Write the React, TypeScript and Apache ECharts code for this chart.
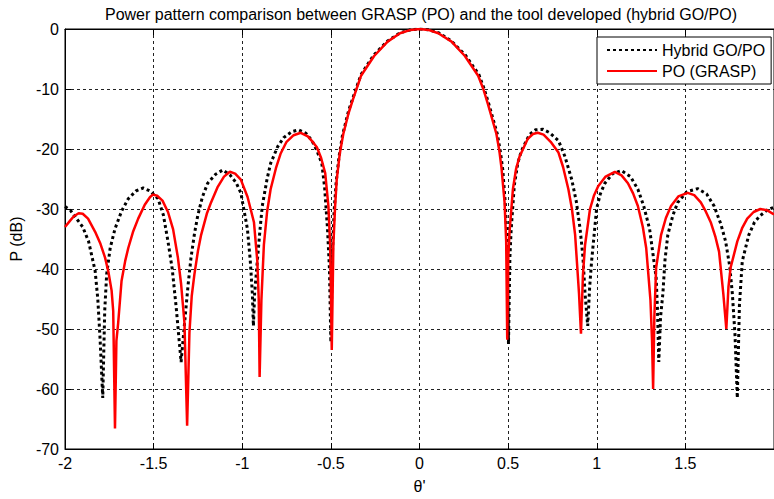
import React, { useEffect, useRef } from "react";
import * as echarts from "echarts";

const titleText = "Power pattern comparison between GRASP (PO) and the tool developed (hybrid GO/PO)";
const seriesNames = ["Hybrid GO/PO", "PO (GRASP)"];

// Hybrid GO/PO (black dotted)
const thetaHybrid = [
  -2.0, -1.97, -1.94, -1.9, -1.867, -1.83, -1.815, -1.802, -1.787, -1.776, -1.765, -1.745, -1.718, -1.68, -1.643,
  -1.6, -1.559, -1.52, -1.475, -1.445, -1.419, -1.395, -1.373, -1.345, -1.322, -1.305, -1.289, -1.27, -1.251, -1.225,
  -1.195, -1.15, -1.11, -1.07, -1.035, -1.008, -0.971, -0.955, -0.943, -0.937, -0.93, -0.915, -0.9, -0.887, -0.86,
  -0.84, -0.8, -0.766, -0.72, -0.682, -0.64, -0.607, -0.58, -0.551, -0.535, -0.519, -0.508, -0.5, -0.492, -0.482,
  -0.47, -0.455, -0.435, -0.4, -0.37, -0.33, -0.26, -0.18, -0.11, -0.05, 0, 0.05, 0.11, 0.18, 0.26,
  0.335, 0.365, 0.39, 0.415, 0.44, 0.457, 0.47, 0.485, 0.495, 0.502, 0.51, 0.517, 0.535, 0.555, 0.575,
  0.62, 0.655, 0.695, 0.735, 0.784, 0.82, 0.859, 0.885, 0.906, 0.922, 0.934, 0.949, 0.96, 0.971, 0.999,
  1.02, 1.046, 1.09, 1.139, 1.19, 1.232, 1.265, 1.298, 1.335, 1.343, 1.35, 1.36, 1.373, 1.385, 1.401,
  1.43, 1.457, 1.51, 1.569, 1.62, 1.662, 1.7, 1.727, 1.75, 1.765, 1.78, 1.793, 1.805, 1.821, 1.858,
  1.89, 1.923, 1.96, 2.0,
];
const powerHybrid = [
  -29.6, -30.2, -31.4, -33.0, -35.4, -40.3, -45.0, -51.7, -61.5, -47.0, -40.9, -36.5, -33.3, -30.3, -28.3,
  -27.0, -26.5, -27.0, -28.3, -31.0, -35.4, -40.0, -46.3, -55.5, -47.9, -42.5, -38.1, -34.2, -31.1, -28.0,
  -25.7, -24.2, -23.5, -24.3, -25.6, -27.3, -33.3, -38.5, -44.1, -49.5, -44.0, -38.7, -33.5, -29.5, -25.0,
  -22.4, -19.6, -18.1, -17.1, -16.8, -17.4, -18.6, -20.2, -22.4, -26.5, -33.3, -40.0, -52.2, -38.0, -30.5,
  -25.5, -21.5, -17.8, -13.6, -11.0, -7.6, -4.4, -2.0, -0.65, -0.12, 0, -0.12, -0.65, -2.0, -4.4,
  -7.6, -10.0, -12.4, -15.0, -17.6, -20.6, -23.5, -29.5, -36.0, -52.5, -38.0, -33.5, -26.0, -22.3, -20.3,
  -17.6, -16.8, -16.7, -17.3, -18.6, -21.2, -25.1, -28.8, -33.3, -38.0, -44.1, -49.5, -43.0, -38.7, -30.0,
  -27.5, -25.7, -24.1, -23.6, -24.6, -26.7, -29.5, -33.3, -41.4, -47.0, -55.5, -48.0, -44.1, -38.5, -34.3,
  -31.0, -28.9, -27.1, -26.6, -27.5, -29.5, -32.5, -35.4, -39.5, -44.1, -51.0, -61.5, -46.0, -38.7, -34.3,
  -32.2, -31.1, -30.2, -29.7,
];

// PO (GRASP) (red solid)
const thetaPO = [
  -2.0, -1.97, -1.95, -1.923, -1.9, -1.87, -1.83, -1.8, -1.774, -1.755, -1.737, -1.728, -1.718, -1.71, -1.7,
  -1.681, -1.66, -1.643, -1.615, -1.587, -1.55, -1.52, -1.503, -1.48, -1.45, -1.419, -1.39, -1.363, -1.345, -1.326,
  -1.311, -1.298, -1.285, -1.27, -1.25, -1.232, -1.2, -1.176, -1.14, -1.103, -1.07, -1.04, -1.008, -0.97, -0.934,
  -0.915, -0.907, -0.902, -0.892, -0.878, -0.86, -0.84, -0.81, -0.784, -0.75, -0.71, -0.67, -0.63, -0.6, -0.579,
  -0.555, -0.532, -0.514, -0.504, -0.495, -0.486, -0.476, -0.467, -0.45, -0.43, -0.4, -0.374, -0.33, -0.256, -0.18,
  -0.11, -0.05, 0, 0.05, 0.106, 0.181, 0.256, 0.331, 0.36, 0.387, 0.41, 0.434, 0.45, 0.462, 0.48,
  0.489, 0.495, 0.501, 0.508, 0.527, 0.545, 0.564, 0.611, 0.64, 0.667, 0.7, 0.74, 0.784, 0.81, 0.84,
  0.86, 0.878, 0.9, 0.911, 0.922, 0.934, 0.962, 0.985, 1.008, 1.05, 1.102, 1.14, 1.176, 1.205, 1.232,
  1.26, 1.279, 1.303, 1.312, 1.318, 1.325, 1.335, 1.363, 1.39, 1.419, 1.46, 1.513, 1.55, 1.587, 1.615,
  1.643, 1.67, 1.69, 1.714, 1.731, 1.743, 1.755, 1.793, 1.82, 1.849, 1.885, 1.923, 1.96, 2.0,
];
const powerPO = [
  -33.0, -31.9, -31.2, -30.7, -30.8, -31.6, -33.8, -35.8, -38.1, -40.5, -43.6, -47.0, -66.6, -52.0, -49.0,
  -42.0, -38.6, -36.5, -33.7, -31.6, -29.3, -28.0, -27.6, -27.8, -28.6, -30.5, -33.4, -38.1, -42.5, -49.0,
  -66.1, -50.6, -44.5, -40.9, -37.0, -34.3, -30.8, -28.9, -26.4, -24.6, -23.8, -24.1, -25.1, -28.0, -32.2,
  -38.7, -45.0, -58.0, -45.2, -36.0, -30.5, -26.7, -23.2, -20.8, -18.8, -17.7, -17.3, -17.9, -18.9, -19.7,
  -21.5, -24.0, -29.5, -36.0, -53.5, -36.0, -29.5, -25.1, -20.8, -17.5, -14.0, -11.6, -7.8, -4.5, -2.1,
  -0.7, -0.15, 0, -0.15, -0.7, -2.1, -4.5, -7.8, -10.0, -12.6, -15.0, -17.5, -20.2, -23.0, -28.9,
  -35.4, -51.8, -38.0, -33.8, -26.7, -23.3, -21.3, -18.3, -17.5, -17.3, -17.6, -18.8, -20.6, -23.0, -26.7,
  -30.0, -34.3, -44.1, -50.8, -41.0, -36.0, -30.0, -27.7, -26.2, -24.6, -23.8, -24.4, -25.7, -27.4, -29.5,
  -33.0, -36.5, -45.2, -52.0, -60.0, -48.0, -39.8, -34.3, -31.5, -29.5, -27.9, -27.3, -27.7, -28.9, -30.4,
  -32.2, -34.7, -37.1, -44.1, -50.0, -43.0, -39.8, -35.4, -33.2, -31.6, -30.5, -30.0, -30.2, -30.9,
];

const xTicks = { min: -2, max: 2, interval: 0.5 };
const yTicks = { min: -70, max: 0, interval: 10 };

const FONT = "'Liberation Sans', Arial, Helvetica, sans-serif";

function zip(xs: number[], ys: number[]) {
  return xs.map((x, i) => [x, ys[i]]);
}

export default function App() {
  const ref = useRef<HTMLDivElement>(null);
  useEffect(() => {
    if (!ref.current) return;
    const chart = echarts.init(ref.current, null, { renderer: "svg" });
    const gridLine = { color: "#222", width: 1, type: [3, 3] as number[] };
    chart.setOption({
      animation: false,
      backgroundColor: "#fff",
      textStyle: { fontFamily: FONT, color: "#000" },
      title: {
        text: titleText,
        left: 416,
        top: 1,
        textAlign: "center",
        textStyle: { fontFamily: FONT, fontSize: 16, fontWeight: "normal", color: "#000" },
      },
      legend: {
        orient: "vertical",
        left: 597,
        top: 37,
        itemWidth: 50,
        itemHeight: 14,
        itemGap: 5,
        padding: [5, 6, 5, 9],
        backgroundColor: "#fff",
        borderColor: "#000",
        borderWidth: 1,
        borderRadius: 0,
        itemStyle: { opacity: 0 },
        textStyle: { fontFamily: FONT, fontSize: 16, color: "#000" },
        data: seriesNames,
      },
      grid: {
        left: 65,
        top: 29,
        width: 710,
        height: 430,
        show: true,
        borderColor: "#000",
        borderWidth: 1,
        backgroundColor: "transparent",
      },
      xAxis: [
        {
          type: "value",
          min: xTicks.min,
          max: xTicks.max,
          interval: xTicks.interval,
          name: "θ'",
          nameLocation: "middle",
          nameGap: 29,
          nameTextStyle: { fontFamily: FONT, fontSize: 16, color: "#000" },
          axisLine: { show: true, onZero: false, lineStyle: { color: "#000", width: 1 } },
          axisTick: { show: true, inside: true, length: 6, lineStyle: { color: "#000" } },
          axisLabel: { fontFamily: FONT, fontSize: 16, color: "#000", margin: 6, showMaxLabel: false },
          splitLine: { show: true, lineStyle: gridLine },
        },
        {
          type: "value",
          position: "top",
          min: xTicks.min,
          max: xTicks.max,
          interval: xTicks.interval,
          axisLine: { show: true, onZero: false, lineStyle: { color: "#000", width: 1 } },
          axisTick: { show: true, inside: true, length: 6, lineStyle: { color: "#000" } },
          axisLabel: { show: false },
          splitLine: { show: false },
        },
      ],
      yAxis: {
        type: "value",
        min: yTicks.min,
        max: yTicks.max,
        interval: yTicks.interval,
        name: "P (dB)",
        nameLocation: "middle",
        nameGap: 35,
        nameTextStyle: { fontFamily: FONT, fontSize: 16, color: "#000" },
        axisLine: { show: true, onZero: false, lineStyle: { color: "#000", width: 1 } },
        axisTick: { show: true, inside: true, length: 6, lineStyle: { color: "#000" } },
        axisLabel: { fontFamily: FONT, fontSize: 16, color: "#000", margin: 6 },
        splitLine: { show: true, lineStyle: gridLine },
      },
      series: [
        {
          name: seriesNames[0],
          type: "line",
          xAxisIndex: 0,
          symbol: "none",
          data: zip(thetaHybrid, powerHybrid),
          lineStyle: { color: "#000", width: 3, type: [3, 3], cap: "butt" },
          itemStyle: { color: "#000" },
          z: 3,
        },
        {
          name: seriesNames[1],
          type: "line",
          xAxisIndex: 0,
          symbol: "none",
          data: zip(thetaPO, powerPO),
          lineStyle: { color: "#ff0000", width: 2.5 },
          itemStyle: { color: "#ff0000" },
          z: 4,
        },
      ],
    });
    return () => chart.dispose();
  }, []);
  return (
    <div
      ref={ref}
      style={{ position: "absolute", left: 0, top: 0, width: 774, height: 499 }}
    />
  );
}
